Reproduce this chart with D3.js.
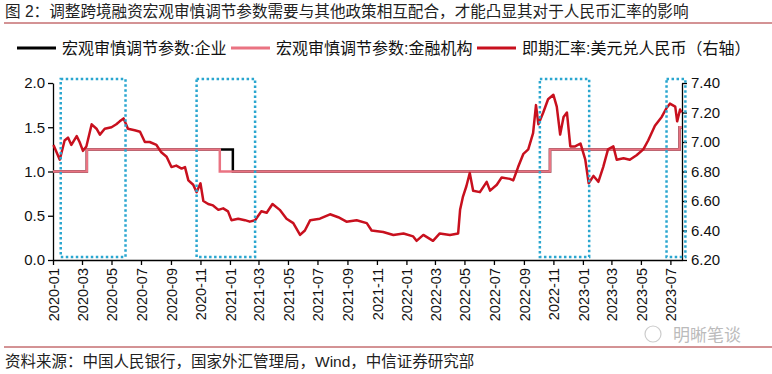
<!DOCTYPE html>
<html>
<head>
<meta charset="utf-8">
<script src="https://cdn.jsdelivr.net/npm/d3@7"></script>
<style>
  body { margin: 0; background: #fff; }
  svg text { font-family: "Liberation Sans", Arial, "Noto Sans CJK SC", sans-serif; }
</style>
</head>
<body>
<svg id="chart" width="772" height="374"></svg>
<script>
// step series: change dates and values (macro-prudential parameter)
const enterpriseDates = ["2020-01-01", "2020-03-11", "2021-01-07", "2022-10-25", "2023-07-20", "2023-07-25"];
const enterpriseValues = [1.0, 1.25, 1.0, 1.25, 1.5, 1.5];
const bankDates = ["2020-01-01", "2020-03-11", "2020-12-11", "2022-10-25", "2023-07-20", "2023-07-25"];
const bankValues = [1.0, 1.25, 1.0, 1.25, 1.5, 1.5];

// USD/CNY spot
const fxDates = [
  "2020-01-02", "2020-01-15", "2020-01-25", "2020-02-01", "2020-02-08", "2020-02-19", "2020-02-25", "2020-03-03",
  "2020-03-10", "2020-03-21", "2020-03-31", "2020-04-07", "2020-04-17", "2020-05-01", "2020-05-11", "2020-05-18",
  "2020-05-26", "2020-06-04", "2020-06-18", "2020-06-29", "2020-07-09", "2020-07-19", "2020-08-02", "2020-08-12",
  "2020-08-23", "2020-09-02", "2020-09-12", "2020-09-23", "2020-09-30", "2020-10-07", "2020-10-17", "2020-10-24",
  "2020-11-01", "2020-11-07", "2020-11-17", "2020-11-27", "2020-12-08", "2020-12-18", "2020-12-28", "2021-01-04",
  "2021-01-18", "2021-02-01", "2021-02-11", "2021-02-22", "2021-03-07", "2021-03-18", "2021-03-30", "2021-04-14",
  "2021-04-28", "2021-05-12", "2021-05-26", "2021-06-05", "2021-06-16", "2021-07-06", "2021-07-27", "2021-08-13",
  "2021-08-30", "2021-09-20", "2021-10-11", "2021-10-21", "2021-11-14", "2021-12-05", "2021-12-26", "2022-01-15",
  "2022-01-22", "2022-02-05", "2022-02-25", "2022-03-11", "2022-04-01", "2022-04-18", "2022-04-22", "2022-04-28",
  "2022-05-05", "2022-05-12", "2022-05-19", "2022-06-02", "2022-06-16", "2022-06-23", "2022-07-07", "2022-07-17",
  "2022-08-03", "2022-08-10", "2022-08-20", "2022-08-31", "2022-09-10", "2022-09-20", "2022-09-26", "2022-10-01",
  "2022-10-11", "2022-10-21", "2022-11-01", "2022-11-08", "2022-11-15", "2022-11-22", "2022-11-29", "2022-12-06",
  "2022-12-16", "2022-12-27", "2023-01-06", "2023-01-13", "2023-01-23", "2023-02-02", "2023-02-12", "2023-02-22",
  "2023-03-05", "2023-03-12", "2023-03-26", "2023-04-08", "2023-04-22", "2023-05-06", "2023-05-16", "2023-05-30",
  "2023-06-13", "2023-06-23", "2023-06-30", "2023-07-11", "2023-07-15", "2023-07-21", "2023-07-24"
];
const fxValues = [
  6.98, 6.88, 7.01, 7.03, 6.98, 7.04, 7.00, 6.94,
  6.97, 7.12, 7.09, 7.05, 7.09, 7.10, 7.12, 7.14,
  7.16, 7.09, 7.08, 7.07, 7.00, 7.00, 6.98, 6.93,
  6.90, 6.83, 6.84, 6.82, 6.83, 6.74, 6.71, 6.66,
  6.72, 6.60, 6.58, 6.57, 6.54, 6.55, 6.53, 6.47,
  6.48, 6.47, 6.46, 6.47, 6.53, 6.52, 6.58, 6.54,
  6.48, 6.45, 6.37, 6.40, 6.47, 6.48, 6.51, 6.49,
  6.46, 6.47, 6.45, 6.40, 6.39, 6.37, 6.38, 6.36,
  6.33, 6.37, 6.33, 6.38, 6.37, 6.38, 6.54, 6.63,
  6.70, 6.79, 6.67, 6.66, 6.73, 6.67, 6.71, 6.76,
  6.75, 6.74, 6.83, 6.92, 6.95, 7.06, 7.25, 7.12,
  7.20, 7.29, 7.32, 7.24, 7.05, 7.17, 7.20, 6.97,
  6.97, 6.99, 6.88, 6.72, 6.77, 6.73, 6.83, 6.95,
  6.97, 6.88, 6.89, 6.88, 6.91, 6.95, 7.01, 7.11,
  7.17, 7.23, 7.26, 7.24, 7.14, 7.22, 7.20
];

// highlighted periods (dotted boxes)
const boxStarts = ["2020-01-17", "2020-10-24", "2022-10-04", "2023-06-23"];
const boxEnds = ["2020-05-30", "2021-02-22", "2023-01-14", "2023-08-01"];

const leftTicks = [0, 0.5, 1.0, 1.5, 2.0];
const rightTicks = [6.2, 6.4, 6.6, 6.8, 7.0, 7.2, 7.4];

const title = "图 2：调整跨境融资宏观审慎调节参数需要与其他政策相互配合，才能凸显其对于人民币汇率的影响";
const source = "资料来源：中国人民银行，国家外汇管理局，Wind，中信证券研究部";
const seriesNames = ["宏观审慎调节参数:企业", "宏观审慎调节参数:金融机构", "即期汇率:美元兑人民币（右轴）"];
const colors = ["#000000", "#EA7382", "#C8101E"];

const parse = d3.utcParse("%Y-%m-%d");
const svg = d3.select("#chart");

const x = d3.scaleUtc()
  .domain([parse("2020-01-01"), parse("2023-07-25")])
  .range([53, 682]);
const yL = d3.scaleLinear().domain([0, 2]).range([260, 83]);
const yR = d3.scaleLinear().domain([6.2, 7.4]).range([260, 83]);

// title + rule
svg.append("text").attr("x", 5).attr("y", 17)
  .attr("font-size", 15.6).attr("fill", "#222").text(title);
svg.append("line").attr("x1", 4).attr("x2", 772).attr("y1", 23).attr("y2", 23)
  .attr("stroke", "#A8262B").attr("stroke-width", 1);

// legend
const legendX = [17, 231, 477];
seriesNames.forEach((name, i) => {
  svg.append("line")
    .attr("x1", legendX[i]).attr("x2", legendX[i] + 39)
    .attr("y1", 48).attr("y2", 48)
    .attr("stroke", colors[i]).attr("stroke-width", 3);
  svg.append("text")
    .attr("x", legendX[i] + 45).attr("y", 54)
    .attr("font-size", 16).attr("fill", "#111").text(name);
});

// axes
const xAxis = d3.axisBottom(x)
  .tickValues(d3.utcMonth.every(2).range(parse("2020-01-01"), parse("2023-07-02")))
  .tickFormat(d3.utcFormat("%Y-%m"))
  .tickSize(5).tickSizeOuter(0);
const gx = svg.append("g").attr("transform", "translate(0,260)").call(xAxis);
gx.selectAll("text")
  .attr("transform", "rotate(-90)")
  .attr("text-anchor", "end")
  .attr("x", -8).attr("y", 0).attr("dy", "0.36em")
  .attr("font-size", 14.5).attr("fill", "#111");

const gl = svg.append("g").attr("transform", "translate(53,0)")
  .call(d3.axisLeft(yL).tickValues(leftTicks).tickFormat(d3.format(".1f")).tickSize(5).tickSizeOuter(0));
gl.selectAll("text").attr("font-size", 15).attr("fill", "#111").attr("x", -8);

const gr = svg.append("g").attr("transform", "translate(682,0)")
  .call(d3.axisRight(yR).tickValues(rightTicks).tickFormat(d3.format(".2f")).tickSize(5).tickSizeOuter(0));
gr.selectAll("text").attr("font-size", 15).attr("fill", "#111").attr("x", 9);

[gx, gl, gr].forEach(g => {
  g.select(".domain").attr("stroke", "#000").attr("stroke-width", 1.3);
  g.selectAll(".tick line").attr("stroke", "#000").attr("stroke-width", 1.3);
});

// series
const stepLine = d3.line().curve(d3.curveStepAfter)
  .x(d => x(parse(d[0]))).y(d => yL(d[1]));

svg.append("path")
  .attr("d", stepLine(d3.zip(enterpriseDates, enterpriseValues)))
  .attr("fill", "none").attr("stroke", colors[0]).attr("stroke-width", 2.5);
svg.append("path")
  .attr("d", stepLine(d3.zip(bankDates, bankValues)))
  .attr("fill", "none").attr("stroke", colors[1]).attr("stroke-width", 2.5);

const fxLine = d3.line()
  .x(d => x(parse(d[0]))).y(d => yR(d[1]));
svg.append("path")
  .attr("d", fxLine(d3.zip(fxDates, fxValues)))
  .attr("fill", "none").attr("stroke", colors[2]).attr("stroke-width", 2.5)
  .attr("stroke-linejoin", "round");

// dotted boxes
d3.zip(boxStarts, boxEnds).forEach(([s, e]) => {
  const x0 = x(parse(s)), x1 = x(parse(e));
  svg.append("rect")
    .attr("x", x0).attr("y", yL(2.045))
    .attr("width", x1 - x0).attr("height", yL(0.034) - yL(2.045))
    .attr("fill", "none").attr("stroke", "#2AA6CF")
    .attr("stroke-width", 2.5).attr("stroke-dasharray", "2.5,2.5");
});

// footer
svg.append("line").attr("x1", 4).attr("x2", 772).attr("y1", 347).attr("y2", 347)
  .attr("stroke", "#A8262B").attr("stroke-width", 1);
svg.append("text").attr("x", 5).attr("y", 367)
  .attr("font-size", 15.5).attr("fill", "#222").text(source);
svg.append("text").attr("x", 673).attr("y", 341)
  .attr("font-size", 17).attr("fill", "#bbb").text("明晰笔谈");
svg.append("circle").attr("cx", 653).attr("cy", 334).attr("r", 8)
  .attr("fill", "none").attr("stroke", "#ccc").attr("stroke-width", 1.2);
</script>
</body>
</html>
